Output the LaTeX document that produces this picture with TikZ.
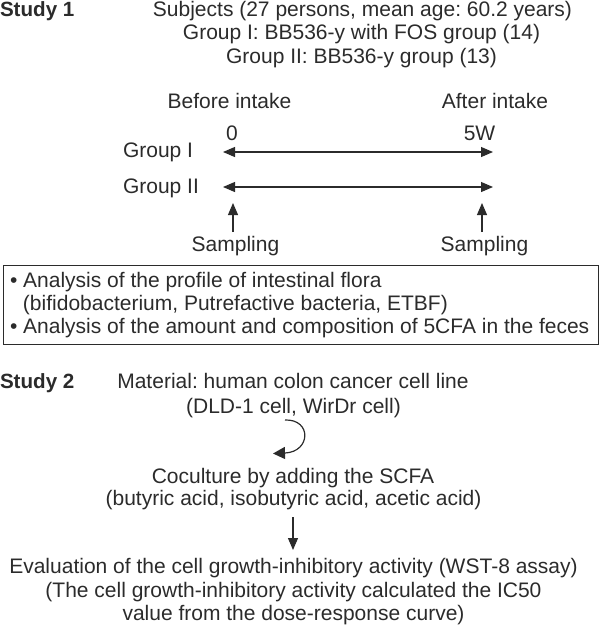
\documentclass[tikz,border=0pt]{standalone}
\usepackage{fontspec}
\setmainfont{Liberation Sans}
\usetikzlibrary{arrows.meta}
\definecolor{ink}{HTML}{2B2B2B}
\frenchspacing
\begin{document}
\begin{tikzpicture}[x=1pt,y=-1pt,
  every node/.style={inner sep=0pt, outer sep=0pt, text=ink, font=\fontsize{21}{23}\selectfont},
  txt/.style={anchor=base},
  txtl/.style={anchor=base west},
  head/.style={anchor=base west, font=\fontsize{20.6}{23}\selectfont\bfseries},
  arr/.style={draw=ink, line width=1.1pt, -{Triangle[length=12pt,width=10pt]}},
  carr/.style={draw=ink, line width=1.2pt, -{Triangle[length=12pt,width=12pt]}},
  darr/.style={draw=ink, line width=1.1pt, {Triangle[length=12pt,width=10pt]}-{Triangle[length=12pt,width=10pt]}},
  frame/.style={draw=ink, line width=1pt}]
\useasboundingbox (0,0) rectangle (600,625);

% Study 1
\node[head] (s1) at (0,16) {Study 1};
\node[txt] (subj) at (362.5,16) {Subjects (27 persons, mean age: 60.2 years)};
\node[txt] (g1d) at (361.5,39.5) {Group I: BB536-y with FOS group (14)};
\node[txt] (g2d) at (361.5,63) {Group II: BB536-y group (13)};
\node[txt] (before) at (229.5,108) {Before intake};
\node[txt] (after) at (495,108) {After intake};
\node[txt] (t0) at (232,140) {0};
\node[txt] (t5) at (479.5,140) {5W};
\node[txtl] (g1) at (123,157) {Group I};
\node[txtl] (g2) at (123,193) {Group II};

\coordinate (a1s) at (223,152);
\coordinate (a1e) at (493,152);
\coordinate (a2s) at (223,187);
\coordinate (a2e) at (493,187);
\draw[darr] (a1s) -- (a1e);
\draw[darr] (a2s) -- (a2e);

\node[txt] (samp1) at (235.5,251) {Sampling};
\node[txt] (samp2) at (484.5,251) {Sampling};
\coordinate (u1s) at (233,232);
\coordinate (u1e) at (233,203);
\coordinate (u2s) at (482,232);
\coordinate (u2e) at (482,203);
\draw[arr] (u1s) -- (u1e);
\draw[arr] (u2s) -- (u2e);

\node[frame, anchor=north west, minimum width=595pt, minimum height=79pt] (box) at (3,265) {};
\node[txtl] (b1) at (10,287) {• Analysis of the profile of intestinal flora};
\node[txtl] (b2) at (23,310) {(bifidobacterium, Putrefactive bacteria, ETBF)};
\node[txtl] (b3) at (10,333) {• Analysis of the amount and composition of 5CFA in the feces};

% Study 2
\node[head] (s2) at (0,388) {Study 2};
\node[txt] (m1) at (293,388) {Material: human colon cancer cell line};
\node[txt] (m2) at (293.5,413) {(DLD-1 cell, WirDr cell)};
\node[txt] (c1) at (293,483) {Coculture by adding the SCFA};
\node[txt] (c2) at (293.5,505) {(butyric acid, isobutyric acid, acetic acid)};
\node[txt] (e1) at (293.5,573) {Evaluation of the cell growth-inhibitory activity (WST-8 assay)};
\node[txt] (e2) at (293.5,597) {(The cell growth-inhibitory activity calculated the IC50};
\node[txt] (e3) at (293.5,620) {value from the dose-response curve)};

\coordinate (k1) at (285,420);
\coordinate (k2) at (273,453.5);
\draw[carr] (k1) .. controls (312,419) and (311,452) .. (k2);
\coordinate (d1) at (293,517);
\coordinate (d2) at (293,550);
\draw[arr] (d1) -- (d2);
\end{tikzpicture}
\end{document}
